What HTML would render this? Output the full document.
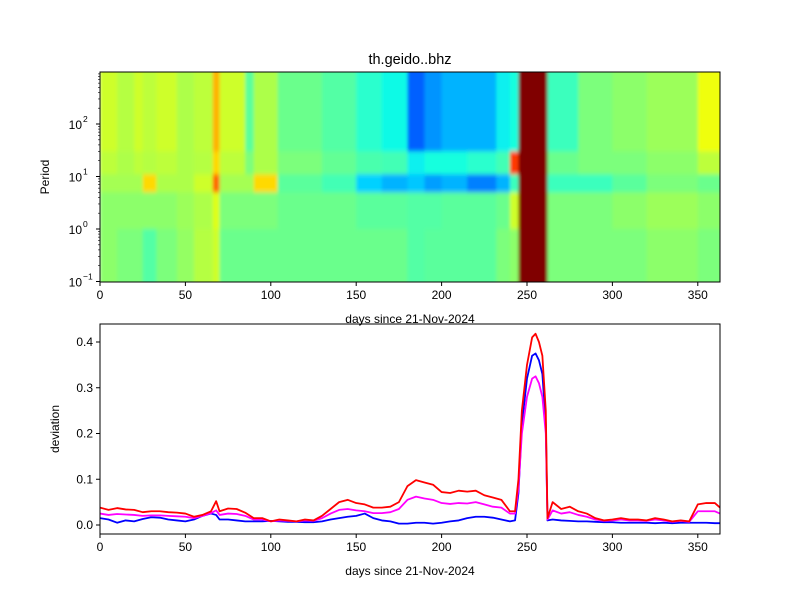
<!DOCTYPE html>
<html><head><meta charset="utf-8"><style>
body{margin:0;background:#fff;}
svg text{font-family:"Liberation Sans","DejaVu Sans",sans-serif;fill:#000;}
</style></head><body>
<svg id="fig" width="800" height="600" xmlns="http://www.w3.org/2000/svg">
<defs>
<clipPath id="hc"><rect x="100" y="72" width="620" height="210"/></clipPath>
<clipPath id="lc"><rect x="100" y="324" width="620" height="210"/></clipPath>
<filter id="bl" filterUnits="userSpaceOnUse" x="80" y="50" width="660" height="250"><feGaussianBlur stdDeviation="1.5 2.5"/></filter>
</defs>
<text x="410" y="64" font-size="14.5" text-anchor="middle">th.geido..bhz</text>
<g id="heat" clip-path="url(#hc)"><g id="cells" filter="url(#bl)"></g></g>
<rect x="100" y="72" width="620" height="210" fill="none" stroke="#000"/>
<g id="topax"></g>
<text x="410" y="323" font-size="12" text-anchor="middle">days since 21-Nov-2024</text>
<text x="49" y="177" font-size="12" text-anchor="middle" transform="rotate(-90 49 177)">Period</text>
<g id="lines" clip-path="url(#lc)"></g>
<rect x="100" y="324" width="620" height="210" fill="none" stroke="#000"/>
<g id="botax"></g>
<text x="410" y="575" font-size="12" text-anchor="middle">days since 21-Nov-2024</text>
<text x="59" y="429" font-size="12" text-anchor="middle" transform="rotate(-90 59 429)">deviation</text>
</svg>
<script>
const segStart=[0,10,20,25,33,45,55,66,70,85,90,104,130,150,165,180,190,200,215,232,240,245,262,280,300,320,350];
const bandLong=[0.6,0.57,0.6,0.58,0.6,0.56,0.58,0.72,0.6,0.46,0.56,0.48,0.45,0.4,0.37,0.22,0.27,0.3,0.3,0.36,0.38,1,0.42,0.5,0.52,0.54,0.64];
const bandMid=[0.58,0.56,0.58,0.57,0.58,0.56,0.57,0.68,0.58,0.5,0.56,0.5,0.47,0.44,0.43,0.36,0.38,0.38,0.4,0.43,0.85,1,0.48,0.5,0.5,0.52,0.58];
const band7=[0.55,0.55,0.55,0.68,0.56,0.56,0.6,0.8,0.55,0.55,0.68,0.46,0.43,0.33,0.3,0.32,0.28,0.3,0.25,0.3,0.42,1,0.42,0.42,0.46,0.5,0.48];
const bandShort=[0.52,0.52,0.52,0.52,0.52,0.54,0.56,0.62,0.5,0.5,0.5,0.48,0.48,0.46,0.46,0.45,0.45,0.46,0.46,0.48,0.6,1,0.5,0.5,0.52,0.54,0.52];
const bandVshort=[0.52,0.5,0.5,0.45,0.5,0.53,0.57,0.6,0.48,0.48,0.48,0.48,0.48,0.48,0.48,0.45,0.46,0.46,0.46,0.5,0.52,1,0.5,0.5,0.5,0.52,0.5];
const bandEdges=[1000,30,11,5,1,0.1];
const xTicks=[0,50,100,150,200,250,300,350];
const yTopTicks=[0.1,1,10,100];
const yTopLabels=["10","10","10","10"];
const yTopExp=["−1","0","1","2"];
const yBotTicks=[0,0.1,0.2,0.3,0.4];
const days=[0,5,10,15,20,25,30,35,40,45,50,55,60,65,68,70,75,80,85,90,95,100,105,110,115,120,125,130,135,140,145,150,155,160,165,170,175,180,185,190,195,200,205,210,215,220,225,230,235,240,243,245,247,250,253,255,257,259,261,262,265,270,275,280,285,290,295,300,305,310,315,320,325,330,335,340,345,350,355,360,363];
const redVals=[0.038,0.033,0.037,0.034,0.033,0.028,0.03,0.03,0.028,0.027,0.025,0.018,0.022,0.03,0.052,0.03,0.036,0.035,0.027,0.015,0.015,0.008,0.012,0.01,0.008,0.012,0.01,0.02,0.035,0.05,0.055,0.048,0.045,0.038,0.038,0.04,0.05,0.085,0.098,0.093,0.088,0.072,0.07,0.075,0.073,0.075,0.065,0.06,0.055,0.03,0.03,0.1,0.25,0.35,0.41,0.418,0.4,0.37,0.25,0.015,0.05,0.035,0.04,0.03,0.025,0.015,0.01,0.012,0.015,0.012,0.012,0.01,0.015,0.012,0.008,0.01,0.008,0.045,0.048,0.048,0.038];
const magVals=[0.025,0.022,0.024,0.023,0.022,0.02,0.021,0.021,0.02,0.019,0.018,0.015,0.02,0.026,0.032,0.022,0.025,0.024,0.02,0.012,0.012,0.008,0.01,0.009,0.008,0.01,0.009,0.015,0.025,0.033,0.035,0.032,0.03,0.026,0.026,0.028,0.035,0.055,0.062,0.058,0.055,0.048,0.046,0.048,0.047,0.05,0.045,0.04,0.038,0.025,0.025,0.08,0.2,0.28,0.32,0.325,0.31,0.28,0.2,0.012,0.032,0.025,0.028,0.022,0.018,0.012,0.009,0.01,0.012,0.01,0.01,0.009,0.012,0.01,0.007,0.009,0.007,0.03,0.03,0.03,0.025];
const blueVals=[0.015,0.012,0.005,0.01,0.008,0.013,0.017,0.016,0.012,0.01,0.008,0.012,0.02,0.025,0.022,0.012,0.012,0.01,0.008,0.008,0.008,0.009,0.008,0.007,0.007,0.006,0.006,0.008,0.012,0.015,0.018,0.02,0.025,0.015,0.01,0.008,0.003,0.003,0.005,0.005,0.003,0.005,0.008,0.01,0.015,0.018,0.018,0.016,0.012,0.008,0.01,0.07,0.22,0.32,0.37,0.375,0.36,0.33,0.22,0.01,0.012,0.01,0.009,0.008,0.008,0.007,0.006,0.006,0.005,0.005,0.005,0.005,0.004,0.005,0.004,0.005,0.005,0.005,0.005,0.004,0.004];
const NS='http://www.w3.org/2000/svg';
const X0=100,X1=720,DMAX=363;
function xs(d){return X0+d*(X1-X0)/DMAX;}
function yl(p){return 229-52.5*Math.log10(p);}
function yb(v){return 525-v*457.5;}
function interp(t,pts){for(let i=1;i<pts.length;i++){if(t<=pts[i][0]){const[a,va]=pts[i-1],[b,vb]=pts[i];return va+(vb-va)*(t-a)/(b-a);}}return pts[pts.length-1][1];}
function jet(t){t=Math.max(0,Math.min(1,t));
 const r=interp(t,[[0,0],[0.35,0],[0.66,1],[0.89,1],[1,0.5]]);
 const g=interp(t,[[0,0],[0.125,0],[0.375,1],[0.64,1],[0.91,0],[1,0]]);
 const b=interp(t,[[0,0.5],[0.11,1],[0.34,1],[0.65,0],[1,0]]);
 return `rgb(${Math.round(r*255)},${Math.round(g*255)},${Math.round(b*255)})`;}
function mk(tag,attrs,parent){const e=document.createElementNS(NS,tag);for(const k in attrs)e.setAttribute(k,attrs[k]);parent.appendChild(e);return e;}
const cells=document.getElementById('cells');
const bands=[bandLong,bandMid,band7,bandShort,bandVshort];
for(let i=0;i<segStart.length;i++){
 const a=xs(segStart[i]),b=i+1<segStart.length?xs(segStart[i+1]):X1+10;
 for(let j=0;j<bands.length;j++){
  const y0=j===0?60:yl(bandEdges[j]),y1=j===bands.length-1?295:yl(bandEdges[j+1]);
  const r=mk('rect',{x:a,y:y0,width:b-a+0.5,height:y1-y0+0.5,fill:jet(bands[j][i])},cells);
  
  
 }
}
const topG=document.getElementById('topax'),botG=document.getElementById('botax');
xTicks.forEach(t=>{
 [[topG,282],[botG,534]].forEach(([g,y])=>{
  mk('line',{x1:xs(t),x2:xs(t),y1:y,y2:y+4,stroke:'#000'},g);
  const tx=mk('text',{x:xs(t),y:y+17,'font-size':12,'text-anchor':'middle'},g);tx.textContent=t;
  
  
 });
});
yTopTicks.forEach((t,i)=>{
 const y=yl(t);
 mk('line',{x1:96,x2:100,y1:y,y2:y,stroke:'#000'},topG);
 const tx=mk('text',{x:82,y:y+5,'font-size':12,'text-anchor':'end'},topG);tx.textContent=yTopLabels[i];
 
 
 const ex=mk('text',{x:83,y:y-2,'font-size':8.5},topG);ex.textContent=yTopExp[i];
});
for(let d=-1;d<3;d++)for(let m=2;m<10;m++){const p=m*Math.pow(10,d);const y=yl(p);if(y<72)continue;mk('line',{x1:98,x2:100,y1:y,y2:y,stroke:'#000','stroke-width':0.6},topG);}
yBotTicks.forEach(t=>{
 const y=yb(t);
 mk('line',{x1:96,x2:100,y1:y,y2:y,stroke:'#000'},botG);
 const tx=mk('text',{x:93,y:y+4,'font-size':12,'text-anchor':'end'},botG);tx.textContent=t.toFixed(1);
 
 
});
const lines=document.getElementById('lines');
[[blueVals,'#0000ff','blue-line'],[magVals,'#ff00ff','magenta-line'],[redVals,'#ff0000','red-line']].forEach(([vals,c,n])=>{
 const p=mk('polyline',{points:days.map((d,i)=>xs(d)+','+yb(vals[i])).join(' '),fill:'none',stroke:c,'stroke-width':1.8,'stroke-linejoin':'round'},lines);
 
 
});
</script>
</body></html>
